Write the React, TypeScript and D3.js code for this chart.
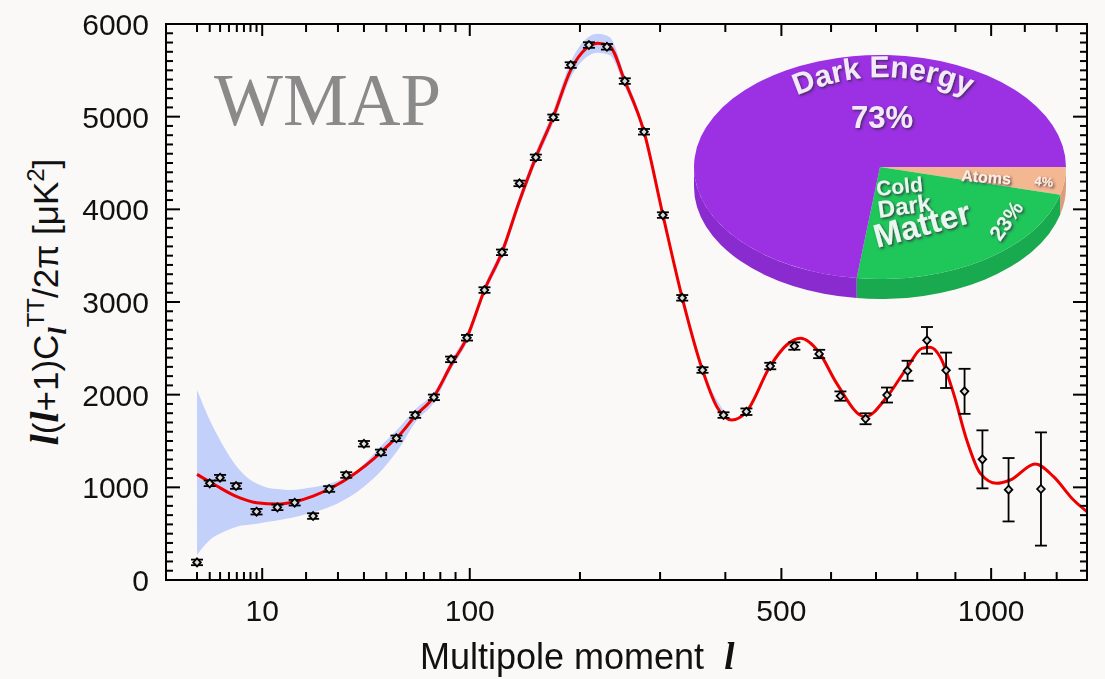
import React from 'react';
import * as d3 from 'd3';

// ---- data ----
const pointL = [2, 3, 4, 5.9, 9, 13, 17, 22, 27, 33, 40, 47.5, 55, 65, 76, 87, 98, 111, 125, 140, 155, 172, 190, 210, 231, 253, 278, 304, 332, 363, 397, 436, 479, 525, 575, 620, 676, 726, 776, 825, 875, 925, 975, 1051, 1150];
const pointV = [190, 1043, 1104, 1014, 737, 784, 834, 690, 982, 1133, 1470, 1377, 1529, 1780, 1971, 2381, 2614, 3129, 3536, 4280, 4561, 4993, 5557, 5773, 5754, 5384, 4837, 3938, 3045, 2266, 1780, 1816, 2309, 2525, 2439, 1985, 1740, 1996, 2258, 2586, 2263, 2036, 1302, 974, 982];
const pointErr = [30, 30, 30, 30, 30, 30, 30, 30, 30, 30, 30, 30, 30, 30, 30, 30, 30, 30, 30, 30, 30, 30, 30, 30, 30, 30, 30, 30, 30, 30, 30, 35, 35, 40, 45, 50, 59, 81, 108, 144, 191, 243, 313, 342, 611];

const curveL = [2, 3.67, 6, 9, 13, 17, 22, 27, 34.5, 47.5, 52, 57, 65, 75.7, 87, 97.9, 111, 125, 140, 155, 172, 190, 207, 220, 234, 253, 278, 304, 332, 363, 386, 411, 436, 479, 510, 537, 575, 612, 675, 726, 776, 812, 833, 859, 895, 931, 969, 1016, 1056, 1132, 1190, 1255, 1300];
const curveV = [1140, 1014, 899, 834, 820, 845, 906, 982, 1115, 1378, 1475, 1575, 1770, 1971, 2320, 2614, 3129, 3536, 4090, 4561, 4999, 5503, 5737, 5791, 5762, 5384, 4837, 3938, 3045, 2266, 1870, 1726, 1816, 2309, 2536, 2608, 2455, 2122, 1760, 1978, 2301, 2500, 2511, 2409, 2014, 1511, 1151, 1043, 1079, 1252, 1115, 863, 737];

const bandL = [2, 3, 4.4, 6, 8, 9.6, 11.5, 14.4, 16, 21, 23, 30, 34.5, 40, 48.7, 57, 65, 76, 87, 98, 111, 125, 140, 155, 172, 190, 207, 220, 234, 253, 278, 304, 332, 363, 400];
const bandHi = [2050, 1726, 1438, 1222, 1079, 1025, 989, 975, 971, 995, 1007, 1070, 1133, 1250, 1475, 1660, 1840, 2025, 2370, 2665, 3180, 3590, 4150, 4625, 5070, 5590, 5840, 5895, 5860, 5450, 4880, 3975, 3075, 2285, 1800];
const bandLo = [270, 432, 521, 575, 598, 612, 630, 655, 668, 720, 740, 828, 900, 1007, 1205, 1440, 1700, 1915, 2270, 2565, 3080, 3480, 4030, 4500, 4930, 5420, 5640, 5690, 5665, 5320, 4795, 3900, 3015, 2245, 1760];

const xMinorTicks = [2, 3, 4, 5, 6, 7, 8, 9, 20, 30, 40, 50, 60, 70, 80, 90, 200, 300, 400, 600, 700, 800, 900, 1100, 1200];
const xMajorTicks = [10, 100, 500, 1000];
const xTickLabels = ['10', '100', '500', '1000'];
const yMajorTicks = [0, 1000, 2000, 3000, 4000, 5000, 6000];
const yTickLabels = ['0', '1000', '2000', '3000', '4000', '5000', '6000'];

const pieNames = ['Atoms', 'Cold Dark Matter', 'Dark Energy'];
const pieValues = [4, 23, 73];
const pieTop = ['#f3b791', '#1fc65a', '#9b31e3'];
const pieSide = ['#dc9d7b', '#19a94e', '#8a2bcf'];

const L = 166, R = 1087, T = 24, B = 580;

export default function App() {
  const x = d3.scalePow().exponent(0.4).domain([0.49, 1300]).range([L, R]);
  const y = d3.scaleLinear().domain([0, 6000]).range([B, T]);

  const curveData = curveL.map((l, i) => [l, curveV[i]] as [number, number]);
  const line = d3.line<[number, number]>().x(d => x(d[0])).y(d => y(d[1])).curve(d3.curveMonotoneX);
  const bandData = bandL.map((l, i) => ({ l, lo: bandLo[i], hi: bandHi[i] }));
  const area = d3.area<{ l: number; lo: number; hi: number }>()
    .x(d => x(d.l)).y0(d => y(d.lo)).y1(d => y(d.hi)).curve(d3.curveMonotoneX);

  const yMinor = d3.range(100, 6000, 100).filter(v => v % 1000 !== 0);

  // pie
  const cx = 880, cy = 167, rx = 186, ry = 112, depth = 20;
  const arcs = d3.pie<number>().sort(null).startAngle(Math.PI / 2).endAngle(Math.PI / 2 + 2 * Math.PI)(pieValues);
  const pt = (t: number, dy = 0) => [cx + rx * Math.cos(t), cy + ry * Math.sin(t) + dy];
  const slices = arcs.map((a, i) => {
    const t1 = a.startAngle - Math.PI / 2, t2 = a.endAngle - Math.PI / 2;
    const p1 = pt(t1), p2 = pt(t2);
    const large = t2 - t1 > Math.PI ? 1 : 0;
    const top = `M${cx},${cy}L${p1[0]},${p1[1]}A${rx},${ry} 0 ${large} 1 ${p2[0]},${p2[1]}Z`;
    const s1 = Math.max(t1, 0), s2 = Math.min(t2, Math.PI);
    let side = '';
    if (s2 > s1) {
      const a1 = pt(s1), a2 = pt(s2), b1 = pt(s1, depth), b2 = pt(s2, depth);
      side = `M${a1[0]},${a1[1]}A${rx},${ry} 0 0 1 ${a2[0]},${a2[1]}L${b2[0]},${b2[1]}A${rx},${ry} 0 0 0 ${b1[0]},${b1[1]}Z`;
    }
    return { top, side, i };
  });

  const tickFont = { fontFamily: 'Liberation Sans, Arial, sans-serif', fontSize: 30, fill: '#111' } as const;
  const serifL = { fontFamily: 'Liberation Serif, Times New Roman, serif', fontStyle: 'italic', fontWeight: 'bold' } as const;
  const pieFont = { fontFamily: 'Liberation Sans, Arial, sans-serif', fontWeight: 'bold' } as const;

  return (
    <svg width={1105} height={679} style={{ position: 'fixed', left: 0, top: 0 }}>
      <defs>
        <filter id="sh" x="-10%" y="-10%" width="130%" height="140%">
          <feDropShadow dx="1.5" dy="1.5" stdDeviation="0.9" floodColor="#3a2a44" floodOpacity="0.85" />
        </filter>
        <clipPath id="plot"><rect x={L} y={T} width={R - L} height={B - T} /></clipPath>
      </defs>
      <rect width={1105} height={679} fill="#faf9f7" />

      <text x={214} y={125} fontFamily="Liberation Serif, Times New Roman, serif" fontSize={73} fill="#8a8a8a">WMAP</text>

      {/* pie */}
      {slices.map(s => s.side && <path key={'s' + s.i} d={s.side} fill={pieSide[s.i]} />)}
      {slices.map(s => <path key={'t' + s.i} d={s.top} fill={pieTop[s.i]} />)}
      <g filter="url(#sh)" {...pieFont}>
        <path id="dePath" d="M776,106 Q882,48 990,106" fill="none" />
        <text fontSize={30} fill="#f4e9f9">
          <textPath href="#dePath" startOffset="50%" textAnchor="middle">Dark Energy</textPath>
        </text>
        <text x={882} y={128} fontSize={31} fill="#f4e9f9" textAnchor="middle">73%</text>
        <text x={877} y={196} fontSize={21} fill="#e9f8ee" transform="rotate(-6 877 196)">Cold</text>
        <text x={879} y={218} fontSize={24} fill="#e9f8ee" transform="rotate(-8 879 218)">Dark</text>
        <text x={877} y={248} fontSize={33} fill="#e9f8ee" transform="rotate(-15 877 248)">Matter</text>
        <text x={1000} y={242} fontSize={21} fill="#e9f8ee" transform="rotate(-55 1000 242)">23%</text>
        <text x={961} y={181} fontSize={16} fill="#fdeee4" transform="rotate(4 961 181)">Atoms</text>
        <text x={1034} y={185} fontSize={13} fill="#fdeee4" transform="rotate(6 1034 185)">4%</text>
      </g>

      {/* band, curve */}
      <g clipPath="url(#plot)">
        <path d={area(bandData) || ''} fill="#c3d0fa" />
        <path d={line(curveData) || ''} fill="none" stroke="#ee0000" strokeWidth={3} />
      </g>

      {/* data points */}
      <g stroke="#000" strokeWidth={1.8}>
        {pointL.map((l, i) => {
          const px = x(l), py = y(pointV[i]);
          const top = y(pointV[i] + pointErr[i]), bot = y(pointV[i] - pointErr[i]);
          return (
            <g key={i}>
              <line x1={px} x2={px} y1={top} y2={bot} />
              <line x1={px - 6} x2={px + 6} y1={top} y2={top} />
              <line x1={px - 6} x2={px + 6} y1={bot} y2={bot} />
              <path d={`M${px},${py - 4}L${px + 3.8},${py}L${px},${py + 4}L${px - 3.8},${py}Z`} fill="#dcdcdc" />
            </g>
          );
        })}
      </g>

      {/* axes frame and ticks */}
      <g stroke="#000" strokeWidth={2}>
        <rect x={L} y={T} width={R - L} height={B - T} fill="none" />
        {xMinorTicks.map(t => (
          <g key={'xm' + t}>
            <line x1={x(t)} x2={x(t)} y1={B} y2={B - 8} />
            <line x1={x(t)} x2={x(t)} y1={T} y2={T + 8} />
          </g>
        ))}
        {xMajorTicks.map(t => (
          <g key={'xM' + t}>
            <line x1={x(t)} x2={x(t)} y1={B} y2={B - 12} />
            <line x1={x(t)} x2={x(t)} y1={T} y2={T + 12} />
          </g>
        ))}
        {yMinor.map(t => (
          <g key={'ym' + t}>
            <line x1={L} x2={L + 7} y1={y(t)} y2={y(t)} />
            <line x1={R} x2={R - 7} y1={y(t)} y2={y(t)} />
          </g>
        ))}
        {yMajorTicks.map(t => (
          <g key={'yM' + t}>
            <line x1={L} x2={L + 14} y1={y(t)} y2={y(t)} />
            <line x1={R} x2={R - 14} y1={y(t)} y2={y(t)} />
          </g>
        ))}
      </g>

      {xMajorTicks.map((t, i) => (
        <text key={'xl' + t} x={x(t)} y={621} textAnchor="middle" {...tickFont}>{xTickLabels[i]}</text>
      ))}
      {yMajorTicks.map((t, i) => (
        <text key={'yl' + t} x={149} y={y(t) + 11} textAnchor="end" {...tickFont}>{yTickLabels[i]}</text>
      ))}

      {/* axis titles */}
      <text x={420} y={669} fontFamily="Liberation Sans, Arial, sans-serif" fontSize={36} fill="#111">
        Multipole moment <tspan dx={10} {...serifL} fontSize={37}>l</tspan>
      </text>
      <text transform="translate(58,302) rotate(-90)" textAnchor="middle" fontFamily="Liberation Sans, Arial, sans-serif" fontSize={35} fill="#111">
        <tspan {...serifL} fontSize={40}>l</tspan>
        <tspan>(</tspan>
        <tspan {...serifL} fontSize={40}>l</tspan>
        <tspan>+1)C</tspan>
        <tspan {...serifL} fontSize={26} dy={8}>l</tspan>
        <tspan fontSize={24} dy={-22}>TT</tspan>
        <tspan dy={14}>/2π [μK</tspan>
        <tspan fontSize={24} dy={-14}>2</tspan>
        <tspan dy={14}>]</tspan>
      </text>
    </svg>
  );
}
